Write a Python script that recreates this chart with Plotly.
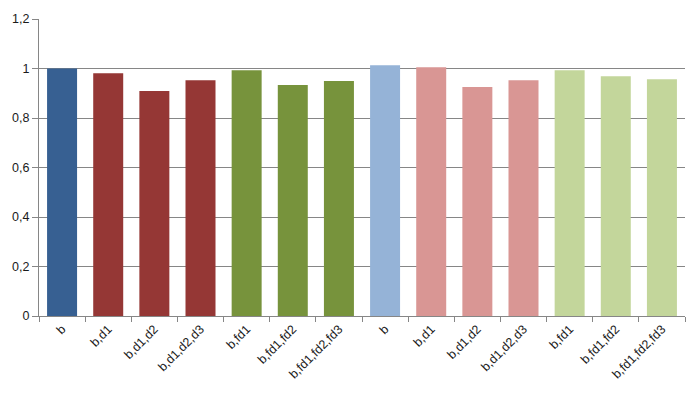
import plotly.graph_objects as go

labels = ["b", "b,d1", "b,d1,d2", "b,d1,d2,d3", "b,fd1", "b,fd1,fd2", "b,fd1,fd2,fd3",
          "b", "b,d1", "b,d1,d2", "b,d1,d2,d3", "b,fd1", "b,fd1,fd2", "b,fd1,fd2,fd3"]
values = [1.0, 0.981, 0.909, 0.953, 0.993, 0.933, 0.949,
          1.013, 1.005, 0.925, 0.953, 0.993, 0.969, 0.957]
colors = ["#376092", "#953735", "#953735", "#953735", "#77933C", "#77933C", "#77933C",
          "#95B3D7", "#D99694", "#D99694", "#D99694", "#C3D69B", "#C3D69B", "#C3D69B"]
y_ticks = [0, 0.2, 0.4, 0.6, 0.8, 1.0, 1.2]
y_tick_text = ["0", "0,2", "0,4", "0,6", "0,8", "1", "1,2"]

positions = list(range(len(labels)))

fig = go.Figure()
fig.add_trace(go.Bar(x=positions, y=values, marker=dict(color=colors, line=dict(width=0)),
                     width=0.65, showlegend=False))
# invisible trace on secondary axis for boundary tick marks
fig.add_trace(go.Scatter(x=[-0.5, len(labels) - 0.5], y=[0, 0], xaxis="x2",
                         mode="markers", marker=dict(opacity=0), showlegend=False,
                         hoverinfo="skip"))

font = dict(family="Liberation Sans, Arial, sans-serif", size=12.5, color="#1a1a1a")
fig.update_layout(
    width=700, height=395,
    margin=dict(l=37, r=15, t=15, b=79),
    paper_bgcolor="white", plot_bgcolor="white",
    font=font,
    xaxis=dict(range=[-0.5, len(labels) - 0.5], tickvals=positions, ticktext=labels,
               tickangle=-45, ticks="", showgrid=False, zeroline=False,
               showline=True, linecolor="#868686", linewidth=1, tickfont=font),
    xaxis2=dict(range=[-0.5, len(labels) - 0.5], overlaying="x", side="bottom",
                tickvals=[i - 0.5 for i in range(len(labels) + 1)], showticklabels=False,
                ticks="outside", ticklen=5, tickcolor="#868686", showgrid=False,
                zeroline=False, showline=False),
    yaxis=dict(range=[0, 1.2], tickvals=y_ticks, ticktext=y_tick_text,
               showgrid=True, gridcolor="#868686", gridwidth=1,
               ticks="outside", ticklen=6, tickcolor="#868686",
               showline=True, linecolor="#868686", linewidth=1, zeroline=False,
               tickfont=font),
)

fig.write_html("out.html")
